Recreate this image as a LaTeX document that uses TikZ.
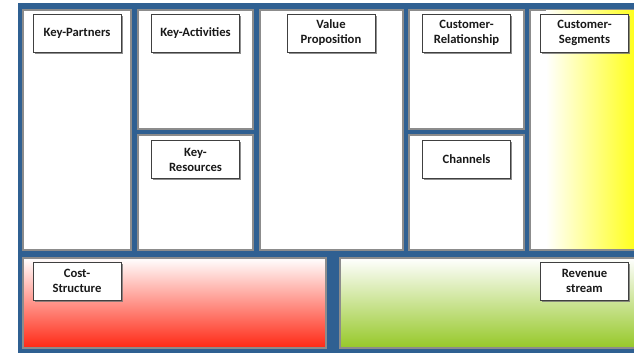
\documentclass[tikz,border=0pt]{standalone}
\usepackage{fontspec}
\setmainfont{Carlito}
\usetikzlibrary{shadows}
\definecolor{canvasblue}{RGB}{47,96,146}
\definecolor{cellgray}{RGB}{140,140,140}
\definecolor{costred}{RGB}{255,40,20}
\definecolor{revgreen}{RGB}{150,200,40}
\definecolor{segyellow}{RGB}{255,255,30}

\begin{document}
\begin{tikzpicture}[x=0.025cm,y=0.025cm,
  cell/.style={draw=cellgray,line width=1.4pt,fill=white},
  tag/.style={rectangle,draw=black!75,fill=white,line width=0.5pt,minimum width=2.2cm,minimum height=0.95cm,align=center,inner sep=1pt,font=\bfseries\fontsize{9}{10.6}\selectfont,text=black!90,drop shadow={shadow xshift=1.4pt,shadow yshift=-1.4pt,fill=black!55,opacity=0.8}}]
\useasboundingbox (0,0) rectangle (634,353);
\clip (0,0) rectangle (634,353);
\fill[canvasblue] (18,0) rectangle (650,350);

\draw[cell] (23,103) rectangle (131,343);
\draw[cell] (138,224) rectangle (253,343);
\draw[cell] (138,103) rectangle (253,218);
\draw[cell] (260,103) rectangle (403,343);
\draw[cell] (409,224) rectangle (524,343);
\draw[cell] (409,103) rectangle (524,218);
\draw[cell] (530,103) rectangle (650,343);
\shade[left color=white,right color=segyellow] (546,104) rectangle (634,342);

\draw[draw=cellgray,line width=1.4pt,top color=white,bottom color=costred] (23,5) rectangle (326,95);
\draw[draw=cellgray,line width=1.4pt,top color=white,bottom color=revgreen] (340,5) rectangle (650,95);

\node[tag] (partners) at (77,320) {Key-Partners};
\node[tag] (activities) at (195.5,320) {Key-Activities};
\node[tag] (value) at (331,320) {Value\\Proposition};
\node[tag] (relation) at (466.5,320) {Customer-\\Relationship};
\node[tag] (segments) at (584.5,320) {Customer-\\Segments};
\node[tag] (resources) at (195.5,193.5) {Key-\\Resources};
\node[tag] (channels) at (466.5,193.5) {Channels};
\node[tag] (cost) at (77,72) {Cost-\\Structure};
\node[tag] (revenue) at (584.5,72) {Revenue\\stream};

\end{tikzpicture}
\end{document}
